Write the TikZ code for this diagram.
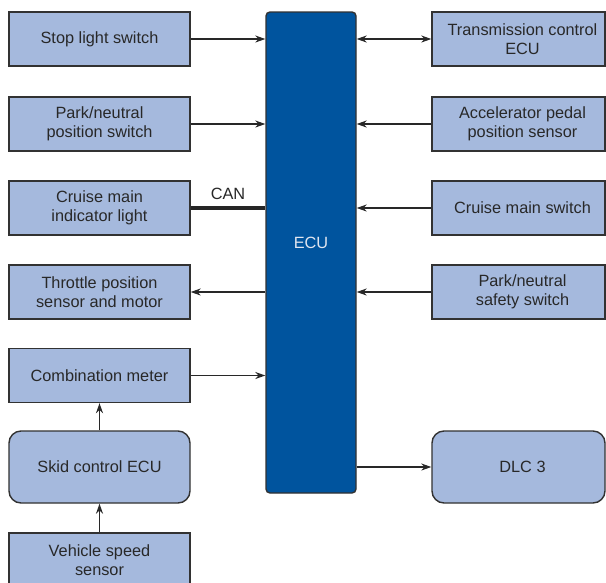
\documentclass[tikz,border=0pt]{standalone}
\usepackage{fontspec}
\setmainfont{Liberation Sans}
\usetikzlibrary{arrows.meta}
\definecolor{boxfill}{RGB}{165,185,221}
\definecolor{boxline}{RGB}{50,50,50}
\definecolor{ecufill}{RGB}{0,84,158}
\definecolor{txt}{RGB}{40,40,40}
\definecolor{ecutxt}{RGB}{225,230,240}
\tikzset{
  unit/.style={draw=boxline, fill=boxfill, line width=1.4pt, minimum width=181pt,
    minimum height=54pt, inner sep=0pt, align=center, text=txt,
    font=\fontsize{16.3}{19}\selectfont},
  runit/.style={unit, minimum width=173pt},
  rounit/.style={unit, rounded corners=12pt, minimum height=72pt},
  caption/.style={align=center, text=txt, inner sep=0pt, font=\fontsize{16.3}{19}\selectfont},
  sig/.style={line width=1.1pt, draw=txt, -{Stealth[length=10pt,width=7pt]}},
  bisig/.style={sig, {Stealth[length=10pt,width=7pt]}-{Stealth[length=10pt,width=7pt]}},
}
\begin{document}
\begin{tikzpicture}[x=1pt,y=-1pt]
\clip (0,0) rectangle (606,582);
\fill[white] (0,0) rectangle (606,582);

% central controller
\node[draw=boxline, fill=ecufill, line width=1.4pt, rounded corners=4pt,
  minimum width=90pt, minimum height=481pt, inner sep=0pt] (ecu) at (311,252.5) {};
\node[text=ecutxt, font=\fontsize{16.3}{19}\selectfont] (ecut) at (311,243) {ECU};

% left column
\node[unit] (stop) at (99.5,39) {Stop light switch};
\node[unit] (pns) at (99.5,124) {Park/neutral\\position switch};
\node[unit] (cmil) at (99.5,208) {Cruise main\\indicator light};
\node[unit] (tps) at (99.5,292) {Throttle position\\sensor and motor};
\node[unit] (comb) at (99.5,375.5) {Combination meter};
\node[rounit] (skid) at (99.5,467) {Skid control ECU};
\node[unit] (vss) at (99.5,560) {Vehicle speed\\sensor};

% right column (boxes run against the right edge; captions sit a little right of centre)
\node[runit] (tcm) at (518.5,39) {};
\node[caption] (tcmt) at (522.5,39) {Transmission control\\ECU};
\node[runit] (apps) at (518.5,124) {};
\node[caption] (appst) at (522.5,124) {Accelerator pedal\\position sensor};
\node[runit] (cms) at (518.5,208) {};
\node[caption] (cmst) at (522.5,208) {Cruise main switch};
\node[runit] (pnss) at (518.5,292) {};
\node[caption] (pnsst) at (522.5,292) {Park/neutral\\safety switch};
\node[rounit, minimum width=173pt] (dlc) at (518.5,467) {};
\node[caption] (dlct) at (522.5,467) {DLC 3};

% signals into and out of the controller
\draw[sig] (stop.east) -- (stop.east -| ecu.west);
\draw[sig] (pns.east) -- (pns.east -| ecu.west);
\draw[line width=4.5pt, draw=black!85] (cmil.east) -- (cmil.east -| ecu.west)
  node[pos=0.5, above=3pt, text=txt, font=\fontsize{16.3}{19}\selectfont] (can) {CAN};
\draw[sig] (tps.east -| ecu.west) -- (tps.east);
\draw[sig] (comb.east) -- (comb.east -| ecu.west);
\draw[sig] (skid.north) -- (comb.south);
\draw[sig] (vss.north) -- (skid.south);

\draw[bisig] (tcm.west -| ecu.east) -- (tcm.west);
\draw[sig] (apps.west) -- (apps.west -| ecu.east);
\draw[sig] (cms.west) -- (cms.west -| ecu.east);
\draw[sig] (pnss.west) -- (pnss.west -| ecu.east);
\draw[sig] (dlc.west -| ecu.east) -- (dlc.west);
\end{tikzpicture}
\end{document}
